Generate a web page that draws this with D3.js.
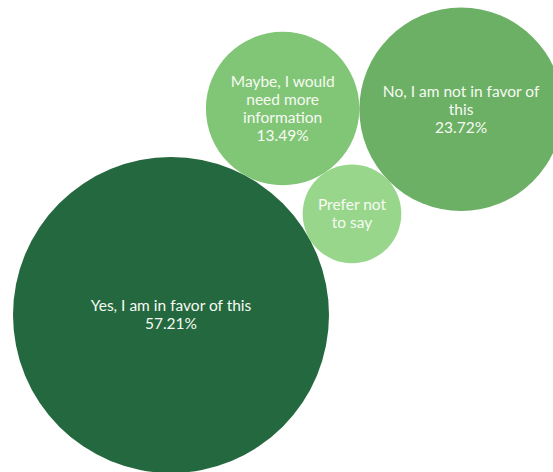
<!DOCTYPE html>
<html>
<head>
<meta charset="utf-8">
<script src="https://cdn.jsdelivr.net/npm/d3@7"></script>
<style>
  html, body { margin: 0; padding: 0; background: #ffffff; }
  svg { display: block; }
</style>
</head>
<body>
<svg id="chart" width="553" height="472"></svg>
<script>
// Survey answers and their shares (percent)
const categories = [
  "Yes, I am in favor of this",
  "Maybe, I would need more information",
  "Prefer not to say",
  "No, I am not in favor of this"
];
const values = [57.21, 13.49, 5.58, 23.72];
const colors = ["#23683e", "#80c676", "#98d78b", "#6bb064"];
// Shares below this are drawn without a percentage line
const minLabelValue = 10;

const width = 553, height = 472;
const svg = d3.select("#chart");

// Bubble area is proportional to the share
const r = d3.scaleSqrt().domain([0, d3.max(values)]).range([0, 158]);

const nodes = categories.map((c, i) => ({ name: c, value: values[i], color: colors[i], r: r(values[i]) }));

// Place circle C tangent to A and B; side picks which of the two solutions
function tangent(A, B, C, side) {
  const dx = B.x - A.x, dy = B.y - A.y;
  const d = Math.hypot(dx, dy);
  const da = A.r + C.r, db = B.r + C.r;
  const cosA = (da * da + d * d - db * db) / (2 * da * d);
  const ang = Math.atan2(dy, dx) + side * Math.acos(Math.max(-1, Math.min(1, cosA)));
  C.x = A.x + da * Math.cos(ang);
  C.y = A.y + da * Math.sin(ang);
}

// Largest bubble anchors the cluster at lower left
const [yes, maybe, prefer, no] = nodes;
yes.x = 171; yes.y = 315;
const a0 = -61.6 * Math.PI / 180;
maybe.x = yes.x + (yes.r + maybe.r) * Math.cos(a0);
maybe.y = yes.y + (yes.r + maybe.r) * Math.sin(a0);
tangent(yes, maybe, prefer, 1);
tangent(maybe, prefer, no, -1);

const g = svg.selectAll("g.bubble")
  .data(nodes)
  .join("g")
  .attr("class", "bubble")
  .attr("transform", d => `translate(${d.x},${d.y})`);

g.append("circle")
  .attr("r", d => d.r)
  .attr("fill", d => d.color);

const fontSize = 15.5, lineH = 18;

g.each(function (d) {
  const grp = d3.select(this);
  const text = grp.append("text")
    .attr("text-anchor", "middle")
    .attr("fill", "#f7faf3")
    .style("font-family", "Lato, 'Open Sans', sans-serif")
    .style("font-size", fontSize + "px");

  // Greedy word wrap within the bubble
  const maxW = d.r * 1.6;
  const words = d.name.split(" ");
  const lines = [];
  let cur = "";
  const probe = text.append("tspan");
  words.forEach(w => {
    const test = cur ? cur + " " + w : w;
    probe.text(test);
    if (probe.node().getComputedTextLength() > maxW && cur) {
      lines.push(cur);
      cur = w;
    } else {
      cur = test;
    }
  });
  if (cur) lines.push(cur);
  probe.remove();
  if (d.value >= minLabelValue) lines.push(d3.format(".2f")(d.value) + "%");

  const y0 = -((lines.length - 1) * lineH) / 2 + fontSize * 0.35;
  lines.forEach((l, i) => {
    text.append("tspan")
      .attr("x", 0)
      .attr("y", y0 + i * lineH)
      .text(l);
  });
});
</script>
</body>
</html>
